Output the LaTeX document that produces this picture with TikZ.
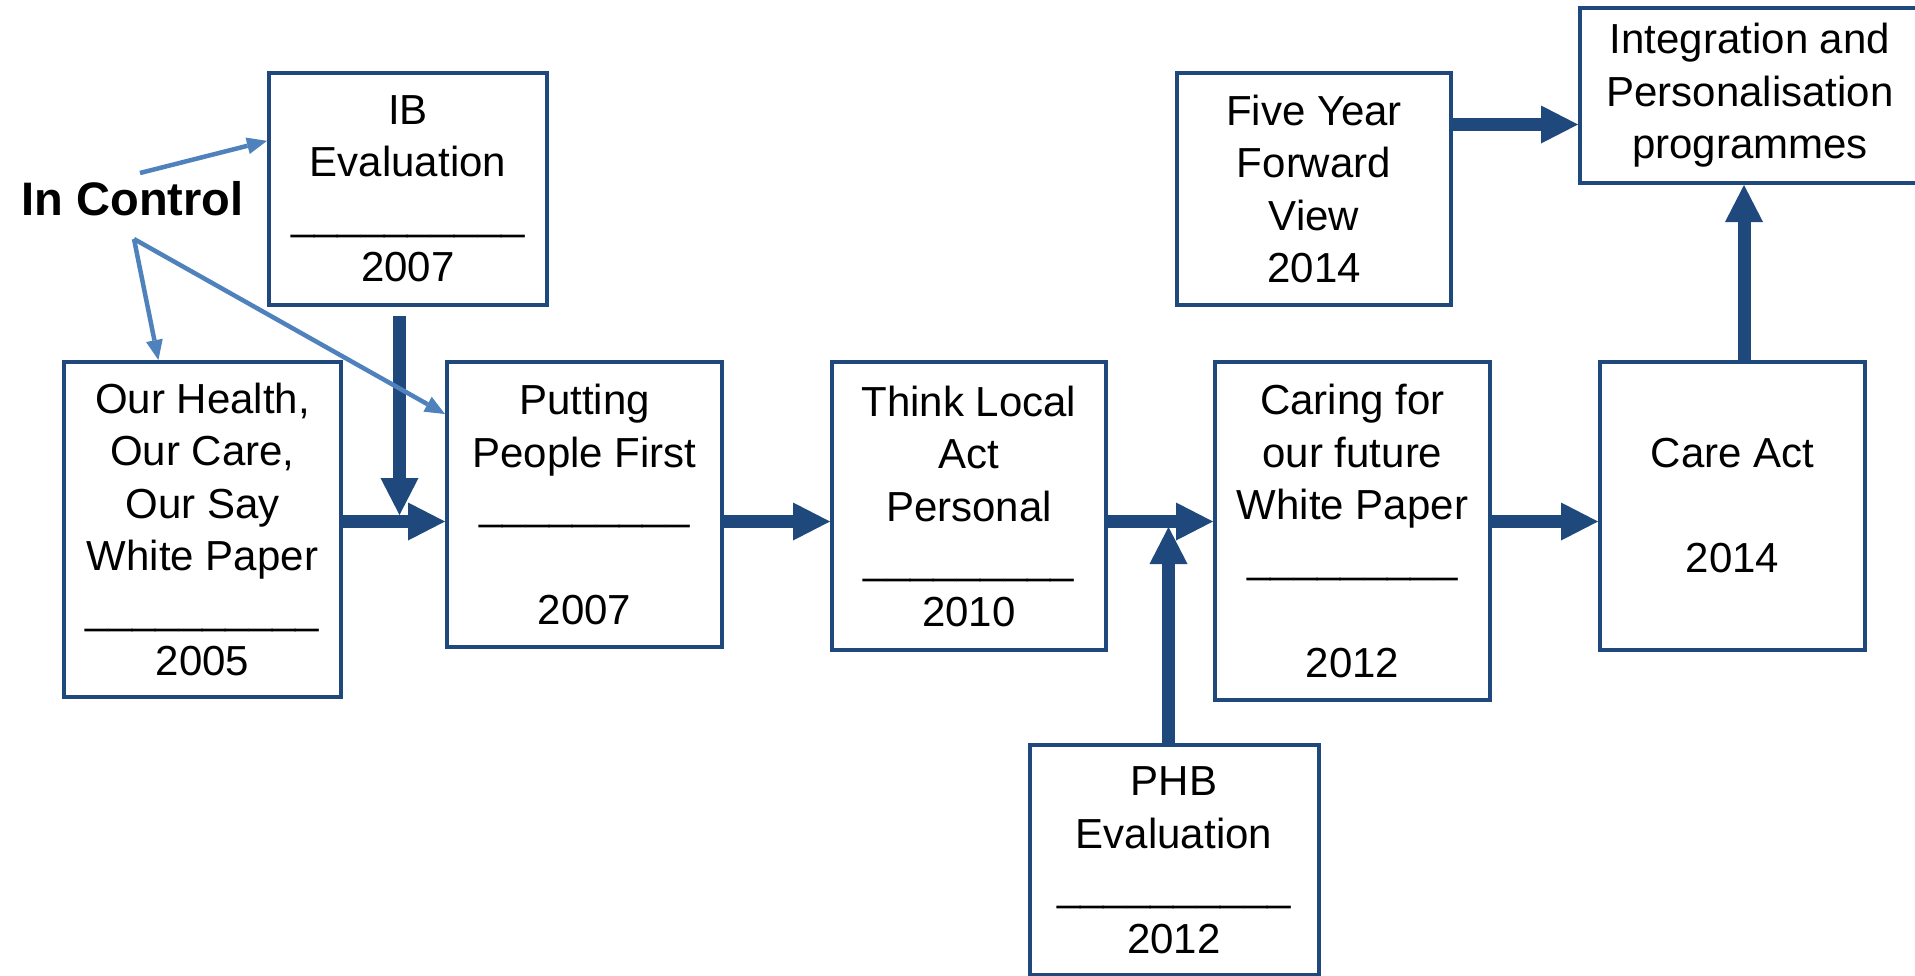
\documentclass[tikz,border=0pt]{standalone}
\usepackage{fontspec}
\setmainfont{Liberation Sans}
\usetikzlibrary{arrows.meta,calc}

\definecolor{dblue}{RGB}{31,73,125}
\definecolor{lblue}{RGB}{79,129,189}

\newcommand{\longbar}{\_\_\_\_\_\_\_\_\_\_}
\newcommand{\shortbar}{\_\_\_\_\_\_\_\_\_}

\begin{document}
\begin{tikzpicture}[x=1pt,y=-1pt,
  box/.style={draw=dblue, line width=4pt, fill=white, inner sep=0pt,
    align=center, font=\fontsize{42}{52.5}\selectfont},
  flowarrow/.style={draw=dblue, line width=13pt,
    -{Triangle[length=37pt,width=38pt,line width=0pt]}},
  linkarrow/.style={draw=lblue, line width=4.5pt,
    -{Triangle[length=20pt,width=17pt,line width=0pt]}},
  label/.style={inner sep=0pt, font=\fontsize{47}{56}\selectfont\bfseries}]

\useasboundingbox (0,0) rectangle (1915,975);

% milestone boxes
\node[box, minimum width=277pt, minimum height=335pt] (oh) at (202.5,529.5)
  {Our Health,\\Our Care,\\Our Say\\White Paper\\\longbar\\2005};
\node[box, minimum width=278pt, minimum height=232pt] (ib) at (408,189)
  {IB\\Evaluation\\\longbar\\2007};
\node[box, minimum width=275pt, minimum height=285pt] (ppf) at (584.5,504.5)
  {Putting\\People First\\\shortbar\\\mbox{}\\2007};
\node[box, minimum width=274pt, minimum height=288pt] (tlap) at (969,506)
  {Think Local\\Act\\Personal\\\shortbar\\2010};
\node[box, minimum width=275pt, minimum height=338pt] (cfof) at (1352.5,531)
  {Caring for\\our future\\White Paper\\\shortbar\\\mbox{}\\2012};
\node[box, minimum width=265pt, minimum height=288pt] (care) at (1732.5,506)
  {Care Act\\\mbox{}\\2014};
\node[box, minimum width=274pt, minimum height=232pt] (fyfv) at (1314,189)
  {Five Year\\Forward\\View\\2014};
\node[box, minimum width=340pt, minimum height=175pt] (integ) at (1750,95.5)
  {Integration and\\Personalisation\\programmes};
\node[box, minimum width=289pt, minimum height=230pt] (phb) at (1174,860)
  {PHB\\Evaluation\\\longbar\\2012};

\node[label] (ic) at (132.5,199) {In Control};

% main flow line
\coordinate (flow) at (0,521.5);
\draw[flowarrow] (oh.east |- flow) -- (ppf.west |- flow);
\draw[flowarrow] (ppf.east |- flow) -- (tlap.west |- flow);
\draw[flowarrow] (tlap.east |- flow) -- (cfof.west |- flow);
\draw[flowarrow] (cfof.east |- flow) -- (care.west |- flow);

% feeder arrows
\draw[flowarrow] ($(ib.south)+(-8.5,9)$) -- ($(ib.south |- flow)+(-8.5,-6.5)$);
\draw[flowarrow] ($(phb.north)+(-5.5,0)$) -- ($(phb.north |- flow)+(-5.5,5.5)$);
\draw[flowarrow] ($(care.north)+(11.5,0)$) -- ($(care.north |- integ.south)+(11.5,0)$);
\draw[flowarrow] ($(fyfv.east)+(-2,-64.5)$) -- ($(integ.west)+(0,29)$);

% In Control links
\draw[linkarrow] ($(ic.center)+(7.5,-26)$) -- ($(ib.north west)!0.296!(ib.south west)$);
\draw[linkarrow] ($(ic.center)+(1.5,40)$) -- ($(oh.north west)!0.343!(oh.north east)$);
\draw[linkarrow] ($(ic.center)+(1.5,40)$) -- ($(ppf.north west)!0.187!(ppf.south west)$);

\end{tikzpicture}
\end{document}
